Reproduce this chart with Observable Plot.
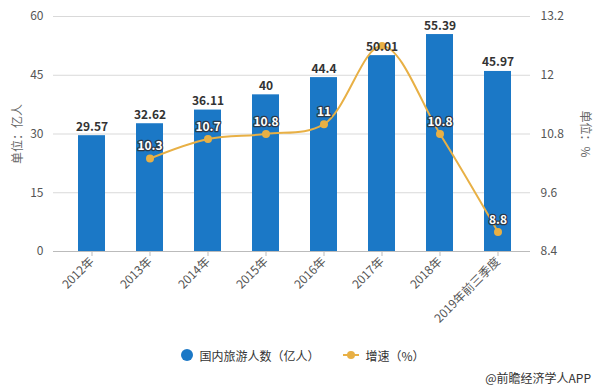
<!DOCTYPE html>
<html>
<head>
<meta charset="utf-8">
<script src="https://cdn.jsdelivr.net/npm/d3@7"></script>
<script src="https://cdn.jsdelivr.net/npm/@observablehq/plot@0.6"></script>
<style>
  html, body { margin: 0; padding: 0; background: #fff; }
  body { width: 596px; height: 390px; overflow: hidden; font-family: "Noto Sans CJK SC", "Noto Sans", sans-serif; }
  #legend { display: flex; justify-content: center; align-items: center; height: 20px; margin-top: 5px; padding-left: 10px; font-size: 12px; color: #333; gap: 24px; }
  .item { display: flex; align-items: center; gap: 6px; }
  #caption { text-align: right; padding-right: 5px; margin-top: 5px; font-size: 12px; color: #333; line-height: 16px; }
</style>
</head>
<body>
<div id="chart"></div>
<div id="legend">
  <div class="item"><svg width="12" height="12"><circle cx="6" cy="6" r="6" fill="#1B78C6"/></svg><span>国内旅游人数（亿人）</span></div>
  <div class="item"><svg width="16" height="12"><line x1="0" y1="6" x2="16" y2="6" stroke="#E8B045" stroke-width="2"/><circle cx="8" cy="6" r="4" fill="#E8B045"/></svg><span>增速（%）</span></div>
</div>
<div id="caption">@前瞻经济学人APP</div>
<script>
const categories = ["2012年", "2013年", "2014年", "2015年", "2016年", "2017年", "2018年", "2019年前三季度"];
const visitors = [29.57, 32.62, 36.11, 40, 44.4, 50.01, 55.39, 45.97];
const growth = [null, 10.3, 10.7, 10.8, 11, 12.6, 10.8, 8.8];
const growthLabelShown = [false, true, true, true, true, false, true, true];
const leftTicks = [0, 15, 30, 45, 60];
const rightTicks = [8.4, 9.6, 10.8, 12, 13.2];

const gMin = 8.4, gMax = 13.2, yMax = 60;
const toLeft = g => (g - gMin) / (gMax - gMin) * yMax;

const bars = categories.map((c, i) => ({c, v: visitors[i]}));
const line = categories.map((c, i) => ({c, g: growth[i], show: growthLabelShown[i]})).filter(d => d.g != null);

const gold = "#E8B045";
const blue = "#1B78C6";

const chart = Plot.plot({
  width: 596,
  height: 340,
  marginTop: 16,
  marginBottom: 89,
  marginLeft: 61,
  marginRight: 69,
  style: {fontFamily: '"Noto Sans CJK SC", "Noto Sans", sans-serif', fontSize: "12px", color: "#555"},
  x: {domain: categories, paddingInner: 0.54, paddingOuter: 0.27, label: null},
  y: {domain: [0, yMax], label: null},
  marks: [
    Plot.ruleY(leftTicks.slice(1), {stroke: "#d9d9d9", strokeWidth: 1, insetLeft: -8, insetRight: -3}),
    Plot.ruleY([0], {stroke: "#bbbbbb", strokeWidth: 1, insetLeft: -8, insetRight: -3}),
    Plot.axisY({ticks: leftTicks, tickSize: 0, tickPadding: 18, label: null, fill: "#555"}),
    Plot.axisY({anchor: "right", ticks: leftTicks, tickSize: 0, tickPadding: 13, label: null, fill: "#555",
      tickFormat: d => String(rightTicks[leftTicks.indexOf(d)])}),
    Plot.axisX({tickRotate: -45, tickSize: 5, tickPadding: 3, label: null, stroke: "#bbb", fill: "#555"}),
    Plot.barY(bars, {x: "c", y: "v", fill: blue}),
    Plot.line(line, {x: "c", y: d => toLeft(d.g), stroke: gold, strokeWidth: 2, curve: "catmull-rom"}),
    Plot.dot(line, {x: "c", y: d => toLeft(d.g), r: 4, fill: gold}),
    Plot.text(bars, {x: "c", y: "v", text: d => String(d.v), lineAnchor: "bottom", dy: -5, fontWeight: "bold", fontSize: 12, fill: "#333"}),
    Plot.text(line.filter(d => d.show), {x: "c", y: d => toLeft(d.g), text: d => String(d.g), dy: -12, fontWeight: "bold", fontSize: 12,
      fill: "white", stroke: "#2b3a4a", strokeWidth: 2.5, paintOrder: "stroke"}),
    Plot.text(["单位：亿人"], {frameAnchor: "left", textAnchor: "middle", dx: -43, rotate: -90, fill: "#666", fontSize: 12}),
    Plot.text(["单位：%"], {frameAnchor: "right", textAnchor: "middle", dx: 57, rotate: 90, fill: "#666", fontSize: 12})
  ]
});
document.getElementById("chart").appendChild(chart);
</script>
</body>
</html>
